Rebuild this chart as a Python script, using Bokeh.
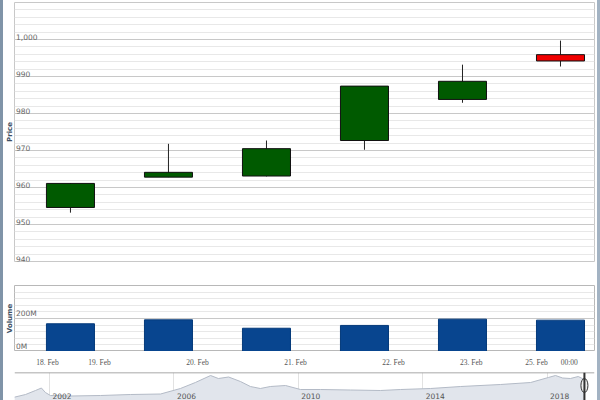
import numpy as np
from bokeh.plotting import figure
from bokeh.layouts import column, row
from bokeh.models import (FixedTicker, Title, Span, Spacer, Range1d,
                          ColumnDataSource, LabelSet)
from bokeh.embed import file_html
from bokeh.resources import INLINE
from bokeh.core.properties import value

# ---------------- data ----------------
candle_idx = [0, 1, 2, 3, 4, 5]
opens = [954.6, 962.8, 963.1, 972.7, 983.8, 995.9]
highs = [961.2, 971.8, 972.7, 987.4, 993.2, 999.7]
lows = [953.2, 962.8, 963.0, 970.2, 982.9, 992.7]
closes = [961.1, 964.1, 970.5, 987.4, 988.7, 994.2]
volumes = [168e6, 192e6, 141e6, 158e6, 196e6, 190e6]

date_tick_pos = [-0.235, 0.296, 1.296, 2.296, 3.296, 4.09, 4.755, 5.09]
date_tick_labels = ["18. Feb", "19. Feb", "20. Feb", "21. Feb", "22. Feb",
                    "23. Feb", "25. Feb", "00:00"]

price_ticks = [940, 950, 960, 970, 980, 990, 1000, 1010]
price_tick_labels = ["940", "950", "960", "970", "980", "990", "1,000", ""]
volume_ticks = [0, 200e6, 400e6]
volume_tick_labels = ["0M", "200M", ""]

nav_years = [2000.87, 2001.23, 2001.55, 2001.74, 2001.87, 2002.03, 2002.68,
             2003.64, 2004.6, 2005.57, 2006.21, 2006.69, 2007.18, 2007.43,
             2007.76, 2008.14, 2008.46, 2008.78, 2009.1, 2009.59, 2010.07,
             2010.71, 2011.68, 2012.64, 2013.29, 2014.25, 2015.22, 2016.5,
             2017.47, 2018.04, 2018.27, 2018.5, 2018.75, 2019.0, 2019.2]
nav_values = [132, 240, 400, 500, 320, 200, 180, 200, 240, 260, 480, 720,
              1000, 880, 940, 760, 560, 480, 560, 600, 440, 440, 420, 400,
              440, 480, 560, 640, 720, 920, 1000, 900, 880, 960, 840]
nav_year_ticks = [2002, 2006, 2010, 2014, 2018]
nav_year_labels = ["2002", "2006", "2010", "2014", "2018"]

# ---------------- style ----------------
FONT = "DejaVu Sans"
MAJOR = "#c8c8c8"
MINOR = "#e8e8e8"
UP = "#005a00"
DOWN = "#f00000"
VOL = "#08458f"

xr = Range1d(-0.571, 5.347)

# ---------------- price panel ----------------
p = figure(width=594, height=270, x_range=xr, y_range=Range1d(940, 1010),
           output_backend="svg", toolbar_location=None,
           x_axis_location=None, y_axis_location=None,
           min_border_left=11, min_border_right=3, min_border_top=2,
           min_border_bottom=9)
p.add_layout(Title(text="Price", align="center", text_font_size="7px",
                   text_font_style="bold", text_color="#3d4f63",
                   text_font=FONT, standoff=1, offset=0), "left")
p.xgrid.visible = False
p.ygrid.ticker = FixedTicker(ticks=price_ticks,
                             minor_ticks=list(np.arange(940, 1010, 2)))
p.ygrid.grid_line_color = MAJOR
p.ygrid.minor_grid_line_color = MINOR
p.outline_line_color = MAJOR
p.background_fill_color = "white"

body_top = [max(o, c) for o, c in zip(opens, closes)]
body_bot = [min(o, c) for o, c in zip(opens, closes)]
colors = [UP if c >= o else DOWN for o, c in zip(opens, closes)]
p.segment(x0=candle_idx, y0=highs, x1=candle_idx, y1=lows,
          line_color="#222222", line_width=1)
p.vbar(x=candle_idx, width=0.49, top=body_top, bottom=body_bot,
       fill_color=colors, line_color="#111111", line_width=1)
p.text(x=[xr.start] * len(price_ticks), y=price_ticks, text=price_tick_labels,
       x_offset=1.5, y_offset=0, text_baseline="bottom",
       text_font=value(FONT), text_font_size="7.5px", text_color="#666666")

# ---------------- volume panel ----------------
p2 = figure(width=594, height=81, x_range=xr, y_range=Range1d(0, 400e6),
            output_backend="svg", toolbar_location=None,
            x_axis_location=None, y_axis_location=None,
            min_border_left=11, min_border_right=3, min_border_top=15,
            min_border_bottom=0)
p2.add_layout(Title(text="Volume", align="center", text_font_size="7px",
                    text_font_style="bold", text_color="#3d4f63",
                    text_font=FONT, standoff=1, offset=0), "left")
p2.xgrid.visible = False
p2.ygrid.ticker = FixedTicker(ticks=volume_ticks,
                              minor_ticks=list(np.arange(0, 400e6, 40e6)))
p2.ygrid.grid_line_color = MAJOR
p2.ygrid.minor_grid_line_color = MINOR
p2.outline_line_color = "#b8b8b8"
p2.vbar(x=candle_idx, width=0.49, top=volumes, bottom=0,
        fill_color=VOL, line_color="#053a7a")
p2.text(x=[xr.start] * len(volume_ticks), y=volume_ticks,
        text=volume_tick_labels, x_offset=1.5, y_offset=-0.5,
        text_baseline="bottom", text_font=value(FONT),
        text_font_size="7.5px", text_color="#666666")

# ---------------- date labels strip ----------------
pl = figure(width=594, height=18, x_range=xr, y_range=Range1d(0, 1),
            output_backend="svg", toolbar_location=None,
            x_axis_location=None, y_axis_location=None,
            min_border_left=11, min_border_right=3, min_border_top=0,
            min_border_bottom=0)
pl.outline_line_color = None
pl.xgrid.visible = False
pl.ygrid.visible = False
date_src = ColumnDataSource(dict(x=date_tick_pos,
                                 y=[1] * len(date_tick_pos),
                                 t=date_tick_labels))
pl.add_layout(LabelSet(x="x", y="y", text="t", source=date_src,
                       y_offset=-10.5, text_align="center",
                       text_baseline="middle", text_font=FONT,
                       text_font_size="7.5px", text_color="#555555"))

# ---------------- navigator ----------------
p3 = figure(width=594, height=31, x_range=Range1d(2000.875, 2019.524),
            y_range=Range1d(0, 1120), output_backend="svg",
            toolbar_location=None, x_axis_location=None, y_axis_location=None,
            min_border_left=11, min_border_right=3, min_border_top=3,
            min_border_bottom=0)
p3.outline_line_color = None
p3.ygrid.visible = False
p3.xgrid.ticker = FixedTicker(ticks=nav_year_ticks)
p3.xgrid.grid_line_color = "#e2e2e2"
p3.varea(x=nav_years, y1=0, y2=nav_values, fill_color="#e1e5ec")
p3.line(nav_years, nav_values, line_color="#b3bac6", line_width=1)
p3.text(x=nav_year_ticks, y=[0] * len(nav_year_ticks), text=nav_year_labels,
        x_offset=3, y_offset=-5, text_baseline="alphabetic",
        text_font=value(FONT), text_font_size="7.5px", text_color="#555555")
p3.add_layout(Span(location=1120, dimension="width", line_color="#8c8c8c",
                   line_width=1.5))
p3.add_layout(Span(location=nav_years[-1], dimension="height",
                   line_color="#333333", line_width=2))
p3.ellipse(x=[nav_years[-1]], y=[600], width=7, height=14,
           width_units="screen", height_units="screen",
           fill_color="#f0f0f0", line_color="#333333")

left_bar = Spacer(width=3, height=400, styles={"background-color": "#8094a8"})
right_bar = Spacer(width=3, height=400, styles={"background-color": "#a3b3c3"})
root = row(left_bar, column(p, p2, pl, p3, spacing=0), right_bar,
           spacing=0, margin=0)

open("out.html", "w").write(file_html(root, INLINE))
